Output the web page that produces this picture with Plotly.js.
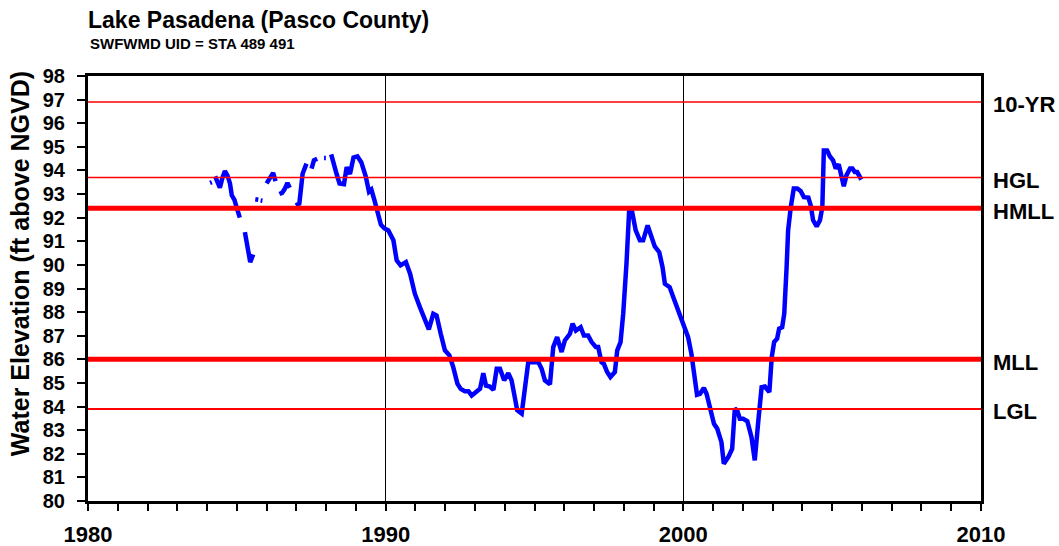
<!DOCTYPE html>
<html>
<head>
<meta charset="utf-8">
<script src="https://cdn.plot.ly/plotly-3.0.1.min.js"></script>
<style>html,body{margin:0;padding:0;background:#fff;}#chart{width:1059px;height:546px;}</style>
</head>
<body>
<div id="chart"></div>
<script>
// Water elevation series (decimal year, ft above NGVD); null = gap in record
const years = [
  1984.10,1984.16,null,
  1984.27,1984.35,1984.43,1984.52,1984.60,1984.68,1984.77,1984.83,1984.92,1985.00,1985.10,null,
  1985.27,1985.35,1985.40,1985.45,1985.55,null,
  1985.62,1985.72,null,1985.80,1985.86,null,
  1986.00,1986.12,1986.22,1986.30,null,
  1986.43,1986.52,1986.60,1986.70,1986.78,null,
  1986.98,1987.10,1987.21,1987.34,null,
  1987.51,1987.59,1987.70,null,
  1987.93,1987.99,null,
  1988.17,1988.27,1988.35,1988.45,1988.60,1988.69,1988.80,1988.92,1989.05,1989.18,1989.33,1989.44,1989.52,1989.62,1989.73,1989.84,1989.95,
  1990.09,1990.26,1990.37,1990.50,1990.68,1990.82,1990.98,1991.15,1991.32,1991.45,1991.60,1991.71,1991.85,1991.99,
  1992.14,1992.27,1992.41,1992.52,1992.66,1992.78,1992.89,1993.06,1993.17,1993.28,1993.37,1993.50,1993.62,1993.73,1993.84,1993.98,
  1994.12,1994.23,1994.35,1994.42,1994.57,1994.68,1994.79,1994.96,1995.13,1995.24,1995.35,1995.52,1995.63,1995.76,1995.91,
  1996.02,1996.19,1996.28,1996.39,1996.55,1996.66,1996.80,1996.92,1997.06,1997.14,1997.25,1997.33,1997.44,1997.55,1997.70,1997.78,1997.89,1997.98,
  1998.09,1998.18,1998.28,1998.40,1998.54,1998.65,1998.80,1998.93,1999.04,1999.19,1999.30,1999.38,1999.54,1999.66,1999.82,1999.99,
  2000.16,2000.27,2000.38,2000.46,2000.56,2000.69,2000.78,2000.89,2001.03,2001.14,2001.28,2001.36,2001.51,2001.64,2001.73,2001.81,2001.90,
  2002.01,2002.15,2002.29,2002.40,2002.52,2002.63,2002.74,2002.89,2002.97,2003.05,2003.15,2003.22,2003.32,2003.39,2003.47,2003.52,2003.61,2003.71,2003.83,2003.94,
  2004.05,2004.20,2004.28,2004.36,2004.48,2004.59,2004.67,2004.72,2004.83,2004.92,2005.03,2005.12,2005.22,2005.31,2005.39,2005.48,2005.60,2005.68,2005.76,2005.84,2005.98
];
const elevation = [
  93.47,93.50,null,
  93.75,93.55,93.27,93.70,93.97,93.80,93.45,92.95,92.75,92.40,92.00,null,
  91.39,90.80,90.40,90.12,90.44,null,
  92.78,92.76,null,92.73,92.72,null,
  93.45,93.70,93.90,93.55,null,
  93.00,93.05,93.20,93.47,93.27,null,
  92.52,92.60,93.86,94.29,null,
  94.08,94.43,94.50,null,
  94.53,94.53,null,
  94.68,94.30,93.86,93.45,93.42,94.14,93.85,94.55,94.60,94.35,93.75,93.10,93.19,92.75,92.30,91.70,91.55,
  91.46,91.04,90.19,89.98,90.12,89.63,88.78,88.21,87.72,87.27,87.93,87.86,87.08,86.38,
  86.17,85.67,84.97,84.75,84.65,84.65,84.47,84.61,84.75,85.41,84.89,84.85,84.71,85.60,85.60,85.11,
  85.41,85.11,84.26,83.84,83.70,84.82,85.88,85.88,85.88,85.60,85.11,84.94,86.52,86.94,86.31,
  86.80,87.08,87.51,87.22,87.36,87.01,87.01,86.73,86.52,86.52,85.88,85.81,85.46,85.25,85.46,86.38,86.73,87.93,
  90.05,92.31,92.24,91.46,91.04,91.04,91.67,91.25,90.78,90.54,89.91,89.20,89.06,88.64,88.07,87.58,
  86.94,86.24,85.25,84.50,84.54,84.79,84.54,83.91,83.27,83.06,82.49,81.58,81.86,82.21,83.91,83.84,83.48,
  83.48,83.38,82.70,81.72,83.41,84.82,84.85,84.61,86.09,86.73,86.87,87.30,87.36,87.93,89.91,91.46,92.45,93.23,93.23,93.13,
  92.87,92.85,92.52,91.89,91.63,91.89,92.45,94.85,94.85,94.60,94.43,94.08,94.26,93.72,93.33,93.79,94.08,94.08,93.93,93.93,93.61
];

// Regulatory reference levels
const levelNames  = ["10-YR","HGL","HMLL","MLL","LGL"];
const levelValues = [96.9, 93.7, 92.4, 86.0, 83.9];
const levelWidths = [1.5, 1.5, 5, 5, 2];

const xTickYears = [1980, 1990, 2000, 2010];
const yTicks = [80,81,82,83,84,85,86,87,88,89,90,91,92,93,94,95,96,97,98];

const FONT = '"Liberation Sans", Arial, Helvetica, sans-serif';

const traces = [{
  x: years, y: elevation, type: 'scatter', mode: 'lines',
  connectgaps: false,
  line: {color: '#0000FF', width: 4.5},
  hoverinfo: 'x+y', showlegend: false
}];

const shapes = levelValues.map((v, i) => ({
  type: 'line', xref: 'paper', x0: 0, x1: 1, yref: 'y', y0: v, y1: v,
  line: {color: '#FF0000', width: levelWidths[i]}, layer: 'above'
}));

const annotations = levelNames.map((n, i) => ({
  text: n, xref: 'paper', x: 1.011, xanchor: 'left',
  yref: 'y', y: levelValues[i], yanchor: 'middle', yshift: -3,
  showarrow: false, font: {family: FONT, size: 22, color: '#000', weight: 700}
}));

annotations.push({
  text: 'SWFWMD UID = STA 489 491', xref: 'paper', x: 0, xanchor: 'left',
  yref: 'paper', y: 1.0753, yanchor: 'middle', showarrow: false,
  font: {family: FONT, size: 15, color: '#000', weight: 700}
});
annotations.push({
  text: 'Water Elevation (ft above NGVD)', xref: 'paper', x: -0.076, xanchor: 'center',
  yref: 'paper', y: 0.5576, yanchor: 'middle', textangle: -90, showarrow: false,
  font: {family: FONT, size: 25, color: '#000', weight: 700}
});

const layout = {
  width: 1059, height: 546,
  margin: {l: 88, r: 78, t: 76, b: 45, pad: 0},
  paper_bgcolor: '#fff', plot_bgcolor: '#fff',
  title: {
    text: 'Lake Pasadena (Pasco County)',
    font: {family: FONT, size: 23, color: '#000', weight: 700},
    xref: 'paper', x: 0, xanchor: 'left',
    yref: 'container', y: 1 - 20/546, yanchor: 'middle'
  },
  xaxis: {
    range: [1980, 2010], tickmode: 'array', tickvals: xTickYears,
    ticktext: xTickYears.map(String),
    ticks: 'outside', ticklen: 7, tickwidth: 2, tickcolor: '#000',
    minor: {dtick: 1, tick0: 1980, ticks: 'outside', ticklen: 7, tickwidth: 2, tickcolor: '#000', showgrid: false},
    showgrid: true, gridcolor: '#000', gridwidth: 1,
    showline: true, linecolor: '#000', linewidth: 3, mirror: true,
    zeroline: false, ticklabelstandoff: 5,
    tickfont: {family: FONT, size: 22, color: '#000', weight: 700},
    fixedrange: true
  },
  yaxis: {
    range: [80, 98], tickmode: 'array', tickvals: yTicks, ticktext: yTicks.map(String),
    ticks: 'outside', ticklen: 8, tickwidth: 2, tickcolor: '#000',
    showgrid: false, zeroline: false,
    showline: true, linecolor: '#000', linewidth: 3, mirror: true,
    ticklabelstandoff: 8,
    tickfont: {family: FONT, size: 20, color: '#000', weight: 700},
    fixedrange: true
  },
  shapes: shapes,
  annotations: annotations,
  showlegend: false
};

Plotly.newPlot('chart', traces, layout, {displayModeBar: false, staticPlot: true});
</script>
</body>
</html>
